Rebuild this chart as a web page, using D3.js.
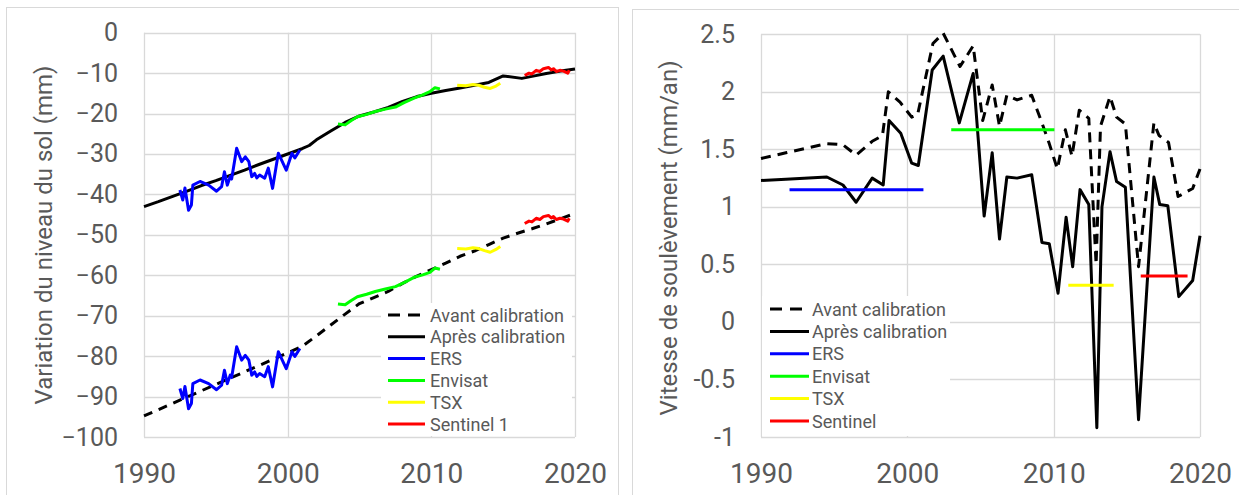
<!DOCTYPE html>
<html><head><meta charset="utf-8">
<script src="https://cdn.jsdelivr.net/npm/d3@7"></script>
<style>
body{margin:0;background:#fff;}
svg{display:block;font-family:Roboto, "Open Sans", sans-serif;}
</style></head>
<body><svg id="c" width="1239" height="495"></svg>
<script>
// ---------- DATA ----------
const legendLeft = ["Avant calibration","Après calibration","ERS","Envisat","TSX","Sentinel 1"];
const legendRight = ["Avant calibration","Après calibration","ERS","Envisat","TSX","Sentinel"];
const xTicks = [1990,2000,2010,2020];
const yTicksLeft = [0,-10,-20,-30,-40,-50,-60,-70,-80,-90,-100];
const yTicksRight = [2.5,2,1.5,1,0.5,0,-0.5,-1];

// Left panel: ground level variation (mm)
const apresLevel = [[1990,-43],[1991,-41.8],[1992,-40.5],[1993,-39.2],[1994,-37.8],[1995,-36.6],[1996,-35.3],[1997,-34],[1998,-32.6],[1999,-31.3],[2000,-30],[2001,-28.7],[2001.5,-27.9],[2002,-26.5],[2003,-24.3],[2004,-22.2],[2005,-20.6],[2006,-19.6],[2007,-18.5],[2008,-17],[2009,-15.8],[2010,-15],[2011,-14.3],[2012,-13.7],[2013,-13.0],[2014,-12.3],[2015,-10.7],[2016.3,-11.3],[2017,-10.8],[2018,-10.1],[2019,-9.5],[2020,-9.0]];
const avantLevel = [[1990,-94.8],[1995,-87],[2000,-79.2],[2001,-77.6],[2002,-75],[2003,-72.3],[2004,-69.6],[2005,-67],[2006,-65.5],[2007,-64],[2008,-62],[2009,-60.2],[2010,-58.6],[2011,-57],[2012,-55.3],[2013,-54],[2014,-52.4],[2015,-50.8],[2016,-49.6],[2017,-48.5],[2018,-47.3],[2019,-46],[2020,-44.7]];
const ersUpper = [[1992.5,-38.9],[1992.7,-41.4],[1992.85,-38.4],[1993.1,-43.9],[1993.3,-42.6],[1993.4,-37.7],[1993.9,-36.8],[1994.5,-37.7],[1995.05,-39.2],[1995.4,-38.1],[1995.6,-34.4],[1995.8,-37.7],[1996.0,-35.6],[1996.1,-36.2],[1996.45,-28.6],[1996.8,-31.9],[1997.05,-30.7],[1997.3,-31.9],[1997.5,-35.6],[1997.7,-34.8],[1997.85,-35.9],[1998.05,-35.2],[1998.4,-36],[1998.65,-33.5],[1998.95,-38.5],[1999.35,-29.8],[1999.9,-34],[2000.3,-29.8],[2000.5,-31],[2000.85,-29]];
const ersLower = [[1992.5,-88],[1992.7,-90.5],[1992.85,-87.5],[1993.1,-93],[1993.3,-91.7],[1993.4,-86.8],[1993.9,-85.9],[1994.5,-86.8],[1995.05,-88.3],[1995.4,-87.2],[1995.6,-83.5],[1995.8,-86.8],[1996.0,-84.7],[1996.1,-85.3],[1996.45,-77.7],[1996.8,-81],[1997.05,-79.8],[1997.3,-81],[1997.5,-84.7],[1997.7,-83.9],[1997.85,-85],[1998.05,-84.3],[1998.4,-85.1],[1998.65,-82.6],[1998.95,-87.6],[1999.35,-78.9],[1999.9,-83.1],[2000.3,-78.9],[2000.5,-80.1],[2000.85,-78.1]];
const envUpper = [[2003.5,-22.6],[2004.0,-22.8],[2004.4,-21.8],[2004.85,-20.8],[2005.5,-20.2],[2006.1,-19.5],[2006.8,-18.9],[2007.5,-18.4],[2008.1,-17.3],[2008.8,-16.2],[2009.4,-15.4],[2009.9,-14.6],[2010.25,-13.6],[2010.6,-13.9]];
const envLower = [[2003.5,-67.1],[2004.0,-67.3],[2004.4,-66.3],[2004.85,-65.3],[2005.5,-64.7],[2006.1,-64],[2006.8,-63.4],[2007.5,-62.8],[2008.1,-61.8],[2008.8,-60.5],[2009.4,-59.9],[2009.9,-59.3],[2010.25,-58.2],[2010.6,-58.5]];
const tsxUpper = [[2011.8,-13],[2012.4,-13.1],[2012.9,-12.8],[2013.3,-13.0],[2013.7,-13.5],[2014.1,-13.8],[2014.5,-13.2],[2014.8,-12.5]];
const tsxLower = [[2011.8,-53.4],[2012.4,-53.5],[2012.9,-53.2],[2013.3,-53.4],[2013.7,-53.9],[2014.1,-54.3],[2014.5,-53.6],[2014.8,-52.9]];
const s1Upper = [[2016.5,-10.6],[2016.8,-10.0],[2017.0,-10.2],[2017.3,-9.3],[2017.55,-9.6],[2017.8,-8.9],[2018.15,-8.6],[2018.35,-9.2],[2018.5,-8.9],[2018.7,-9.6],[2018.95,-9.3],[2019.2,-9.5],[2019.5,-10.0],[2019.6,-9.3]];
const s1Lower = [[2016.5,-47.2],[2016.8,-46.6],[2017.0,-46.8],[2017.3,-45.9],[2017.55,-46.2],[2017.8,-45.5],[2018.15,-45.2],[2018.35,-45.8],[2018.5,-45.5],[2018.7,-46.2],[2018.95,-45.9],[2019.2,-46.1],[2019.5,-46.6],[2019.6,-45.9]];

// Right panel: uplift velocity (mm/an)
const avantSpeed = [[1990,1.42],[1991.7,1.47],[1994.5,1.55],[1995.6,1.54],[1996.5,1.45],[1997.6,1.57],[1998.3,1.62],[1998.7,2.0],[1999.5,1.91],[2000.3,1.78],[2000.7,1.80],[2001.75,2.42],[2002.45,2.51],[2003.6,2.22],[2004.5,2.4],[2005.15,1.75],[2005.8,2.06],[2006.3,1.7],[2006.8,1.97],[2007.5,1.93],[2008.5,1.97],[2009.2,1.73],[2009.7,1.55],[2010.25,1.33],[2010.8,1.67],[2011.25,1.44],[2011.75,1.84],[2012.4,1.77],[2012.9,0.5],[2013.2,1.7],[2013.85,1.96],[2014.3,1.78],[2014.9,1.72],[2015.8,0.48],[2016.85,1.73],[2017.2,1.62],[2017.85,1.56],[2018.5,1.09],[2019.5,1.16],[2020,1.33]];
const apresSpeed = [[1990,1.23],[1991.7,1.24],[1994.5,1.26],[1995.6,1.19],[1996.5,1.04],[1997.6,1.25],[1998.35,1.19],[1998.75,1.75],[1999.55,1.64],[2000.3,1.38],[2000.75,1.36],[2001.7,2.19],[2002.45,2.31],[2003.55,1.73],[2004.5,2.16],[2005.25,0.92],[2005.8,1.47],[2006.3,0.72],[2006.8,1.26],[2007.5,1.25],[2008.5,1.28],[2009.2,0.69],[2009.7,0.68],[2010.3,0.25],[2010.85,0.91],[2011.3,0.48],[2011.8,1.15],[2012.4,1.02],[2012.95,-0.92],[2013.3,1.0],[2013.85,1.48],[2014.3,1.22],[2014.9,1.17],[2015.8,-0.85],[2016.85,1.26],[2017.25,1.02],[2017.8,1.01],[2018.55,0.22],[2019.5,0.36],[2020,0.75]];
const ersMean = [[1991.95,1.15],[2001.1,1.15]];
const envMean = [[2003.0,1.67],[2010.05,1.67]];
const tsxMean = [[2011.0,0.32],[2014.1,0.32]];
const s1Mean = [[2015.95,0.40],[2019.15,0.40]];

// ---------- DRAW ----------
const svg = d3.select("#c");
const GRID = "#d9d9d9", TXT = "#595959";
const COLORS = ["#000","#000","#0000ff","#00ff00","#ffff00","#ff0000"];

// panel frames
svg.append("rect").attr("x",6.5).attr("y",7.5).attr("width",612).attr("height",520).attr("fill","none").attr("stroke",GRID);
svg.append("rect").attr("x",632.5).attr("y",9.5).attr("width",620).attr("height",520).attr("fill","none").attr("stroke",GRID);

function panel(cfg){
  const x = d3.scaleLinear().domain([1990,2020]).range([cfg.x0,cfg.x1]);
  const y = d3.scaleLinear().domain(cfg.ydom).range([cfg.y1,cfg.y0]);
  const g = svg.append("g");
  // grid
  g.append("g").selectAll("line").data(cfg.yTicks).join("line")
    .attr("x1",cfg.x0).attr("x2",cfg.x1)
    .attr("y1",d=>Math.round(y(d))+0.5).attr("y2",d=>Math.round(y(d))+0.5)
    .attr("stroke",GRID).attr("stroke-width",1.3);
  g.append("g").selectAll("line").data(xTicks).join("line")
    .attr("y1",cfg.y0).attr("y2",cfg.y1)
    .attr("x1",d=>Math.round(x(d))+0.5).attr("x2",d=>Math.round(x(d))+0.5)
    .attr("stroke",GRID).attr("stroke-width",1.3);
  // axes labels via d3 axes
  const ax = g.append("g").attr("transform",`translate(0,${cfg.y1})`)
    .call(d3.axisBottom(x).tickValues(xTicks).tickFormat(d3.format("d")).tickSize(0).tickPadding(26));
  ax.select(".domain").remove();
  ax.selectAll("text").attr("font-size",28).attr("fill",TXT).attr("font-family","Roboto, sans-serif");
  const ay = g.append("g").attr("transform",`translate(${cfg.x0},0)`)
    .call(d3.axisLeft(y).tickValues(cfg.yTicks).tickFormat(cfg.fmt).tickSize(0).tickPadding(cfg.ypad));
  ay.select(".domain").remove();
  ay.selectAll("text").attr("font-size",25).attr("fill",TXT).attr("font-family","Roboto, sans-serif");
  // title
  g.append("text").attr("transform",`translate(${cfg.tx},${cfg.tcy}) rotate(-90)`)
    .attr("text-anchor","middle").attr("dominant-baseline","central")
    .attr("font-size",cfg.tfs).attr("fill",TXT).text(cfg.title);
  const line = d3.line().x(d=>x(d[0])).y(d=>y(d[1]));
  // legend bg
  g.append("rect").attr("x",cfg.lg.bx).attr("y",cfg.lg.by).attr("width",cfg.lg.bw).attr("height",cfg.lg.bh).attr("fill","#fff");
  cfg.series.forEach(s=>{
    g.append("path").datum(s.data).attr("d",line).attr("fill","none")
      .attr("stroke",s.color).attr("stroke-width",3).attr("stroke-linejoin","round")
      .attr("stroke-dasharray",s.dash||null);
  });
  // legend
  const lg = g.append("g");
  cfg.lg.labels.forEach((lab,i)=>{
    const yy = cfg.lg.ry + i*cfg.lg.dy;
    lg.append("line").attr("x1",cfg.lg.lx0).attr("x2",cfg.lg.lx1).attr("y1",yy).attr("y2",yy)
      .attr("stroke",COLORS[i]).attr("stroke-width",3).attr("stroke-dasharray",i===0?"12,8":null);
    lg.append("text").attr("x",cfg.lg.tx).attr("y",yy).attr("dominant-baseline","central")
      .attr("font-size",cfg.lg.fs).attr("fill",TXT).text(lab);
  });
}

panel({x0:144,x1:575,y0:32.7,y1:437,ydom:[-100,0],yTicks:yTicksLeft,fmt:d3.format("d"),ypad:26,
  tx:44,tcy:235,tfs:24,title:"Variation du niveau du sol (mm)",
  series:[
    {data:avantLevel,color:"#000",dash:"9,7"},
    {data:apresLevel,color:"#000"},
    {data:ersUpper,color:COLORS[2]},{data:ersLower,color:COLORS[2]},
    {data:envUpper,color:COLORS[3]},{data:envLower,color:COLORS[3]},
    {data:tsxUpper,color:COLORS[4]},{data:tsxLower,color:COLORS[4]},
    {data:s1Upper,color:COLORS[5]},{data:s1Lower,color:COLORS[5]}
  ],
  lg:{labels:legendLeft,bx:381,by:303,bw:191,bh:133,ry:315,dy:21.8,lx0:388,lx1:425,tx:430,fs:18}
});

panel({x0:761,x1:1200,y0:34.3,y1:437,ydom:[-1,2.5],yTicks:yTicksRight,fmt:d=>String(d),ypad:26,
  tx:669,tcy:238,tfs:24,title:"Vitesse de soulèvement (mm/an)",
  series:[
    {data:avantSpeed,color:"#000",dash:"10,7"},
    {data:apresSpeed,color:"#000"},
    {data:ersMean,color:COLORS[2]},
    {data:envMean,color:COLORS[3]},
    {data:tsxMean,color:COLORS[4]},
    {data:s1Mean,color:COLORS[5]}
  ],
  lg:{labels:legendRight,bx:762,by:296,bw:188,bh:140,ry:309,dy:22.4,lx0:770,lx1:809,tx:812,fs:18}
});
</script></body></html>
